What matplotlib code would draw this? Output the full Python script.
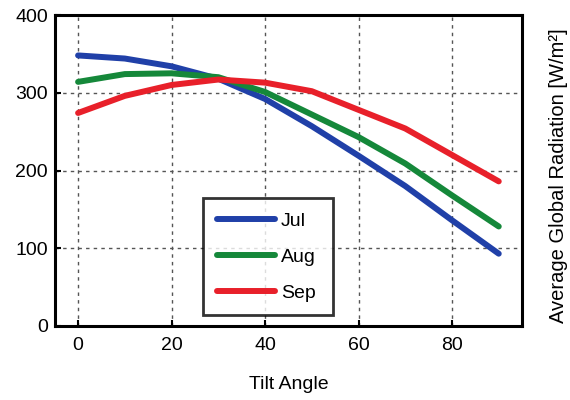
import matplotlib
matplotlib.use("Agg")
import matplotlib.pyplot as plt

tilt = [0, 10, 20, 30, 40, 50, 60, 70, 80, 90]
jul = [348, 344, 334, 318, 292, 257, 219, 180, 136, 93]
aug = [314, 324, 325, 320, 301, 272, 243, 209, 168, 128]
sep = [274, 296, 310, 317, 313, 302, 278, 254, 220, 186]
series_labels = ["Jul", "Aug", "Sep"]
xticks = [0, 20, 40, 60, 80]
yticks = [0, 100, 200, 300, 400]

plt.rcParams['font.family'] = ['Liberation Sans', 'DejaVu Sans']

fig = plt.figure(figsize=(5.7, 4.0), dpi=100)
ax = fig.add_axes([0.096, 0.185, 0.82, 0.7775])

colors = ['#2040a8', '#15883a', '#e8202a']
for vals, lab, c in zip([jul, aug, sep], series_labels, colors):
    ax.plot(tilt, vals, color=c, lw=4.3, label=lab, solid_capstyle='round',
            solid_joinstyle='round')

ax.set_xlim(-5, 95)
ax.set_ylim(0, 400)
ax.set_xticks(xticks)
ax.set_yticks(yticks)
ax.grid(True, color='#555555', linestyle=(0, (2.5, 3)), lw=1.0)
ax.set_axisbelow(True)
ax.tick_params(direction='in', length=4, width=1.5, labelsize=14)
ax.tick_params(axis='x', pad=8)
ax.tick_params(axis='y', pad=5)
for s in ax.spines.values():
    s.set_linewidth(2.2)

ax.set_xlabel("Tilt Angle", fontsize=14, labelpad=16)
fig.text(558 / 570, 1 - 176 / 400, "Average Global Radiation [W/m²]",
         rotation=90, ha='center', va='center', fontsize=14.5)

leg = ax.legend(loc='upper left', bbox_to_anchor=(0.318, 0.41, 0.278, 0.0),
                mode='expand', fontsize=14, frameon=True, fancybox=False,
                handlelength=3.0, handletextpad=0.3, borderaxespad=0,
                labelspacing=0.95, borderpad=0.7)
leg.get_frame().set_edgecolor('black')
leg.get_frame().set_linewidth(2.0)
for h in leg.get_lines():
    h.set_linewidth(4.3)

fig.savefig("out.png", dpi=100)
